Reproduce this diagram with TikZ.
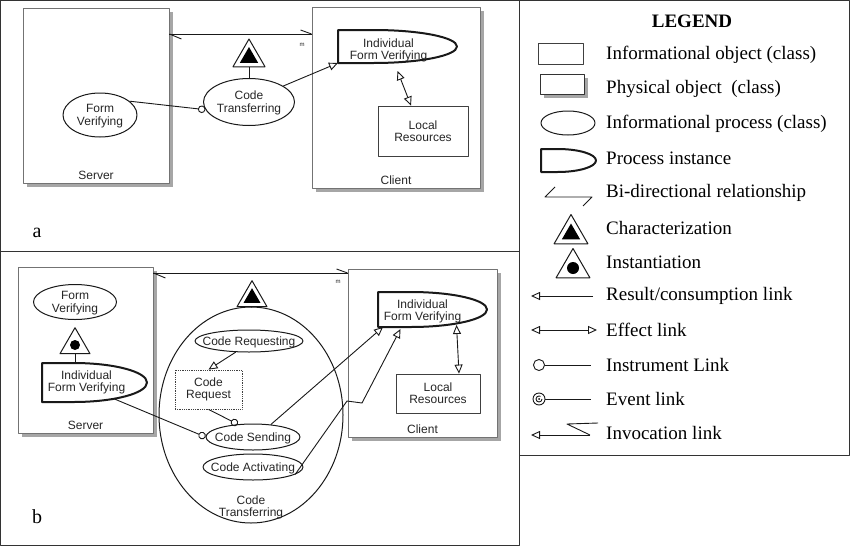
\documentclass[tikz,border=0pt]{standalone}
\usepackage{fontspec}
\setmainfont{Liberation Serif}
\setsansfont{Liberation Sans}
\usetikzlibrary{arrows.meta,shapes.geometric,shadows}

\newcommand{\ztext}[1]{\makebox[0pt]{\raisebox{-4.5pt}[0pt][0pt]{\begin{tabular}{@{}c@{}}#1\end{tabular}}}}
\newcommand{\procshape}[3]{\draw[proc line] (#1.north west) -- ++(0.3*#2,0)
    arc[start angle=-90,end angle=90,x radius=0.7*#2,y radius=0.5*#3] -- (#1.south west) -- cycle;}

\begin{document}
\begin{tikzpicture}[x=1pt,y=-1pt,line join=round]
    \tikzstyle{every node}=[font=\sffamily\fontsize{12}{12}\selectfont, text=black!85, inner sep=0pt]
    \tikzstyle{frame}=[line width=1pt, draw=black!80]
    \tikzstyle{physobj}=[rectangle, draw=black!55, line width=0.9pt, fill=white, drop shadow={shadow xshift=4pt, shadow yshift=-4pt, fill=black!35, opacity=1}]
    \tikzstyle{infobj}=[rectangle, draw=black!75, line width=0.8pt, align=center]
    \tikzstyle{proc}=[ellipse, draw=black!90, line width=1pt]
    \tikzstyle{procinst}=[rectangle, outer sep=0pt]
    \tikzstyle{proc line}=[line width=2pt, draw=black!90]
    \tikzstyle{tri}=[regular polygon, regular polygon sides=3, draw=black!90, line width=1pt, fill=white]
    \tikzstyle{tri fill}=[regular polygon, regular polygon sides=3, fill=black]
    \tikzstyle{link}=[line width=0.9pt, draw=black!90]
    \tikzstyle{result}=[link, -{Triangle[open,length=9pt,width=8pt]}]
    \tikzstyle{effect}=[link, {Triangle[open,length=9pt,width=8pt]}-{Triangle[open,length=9pt,width=8pt]}]
    \tikzstyle{instrument}=[link, -{Circle[open,length=7.5pt]}]
    \tikzstyle{small}=[font=\sffamily\fontsize{6}{6}\selectfont]
    \tikzstyle{panel}=[font=\rmfamily\fontsize{20}{20}\selectfont, text=black]
    \tikzstyle{legtext}=[font=\rmfamily\fontsize{19}{19}\selectfont, text=black, anchor=west]

    \useasboundingbox (0,0) rectangle (850,546);
    \draw[frame] (0.5,0.5) rectangle (519,251);
    \draw[frame] (0.5,251) rectangle (519,545.5);
    \draw[frame] (519,0.5) rectangle (849.5,455);

    % panel a
    \node[physobj, minimum width=146pt, minimum height=175pt, label={[above, inner sep=4pt]south:Server}] (serverA) at (96,95.5) {};
    \node[physobj, minimum width=168pt, minimum height=181pt, label={[above, inner sep=4pt]south:Client}] (clientA) at (396,97.5) {};
    \coordinate (bdA) at (0,34);
    \draw[link] (serverA.east |- bdA) -- (clientA.west |- bdA);
    \draw[link] (serverA.east |- bdA) -- ++(12,5);
    \draw[link] (clientA.west |- bdA) -- ++(-11,-4);
    \node[small] (mA) at (302,45) {m};
    \node[tri, minimum size=37pt] (charA) at (249,57.5) {};
    \node[tri fill, minimum size=21pt] (charAin) at (charA) {};
    \node[proc, minimum width=91pt, minimum height=47pt] (ctA) at (249,102) {\ztext{Code\\Transferring}};
    \node[proc, minimum width=74pt, minimum height=44pt] (fvA) at (100,115) {\ztext{Form\\Verifying}};
    \node[procinst, minimum width=119pt, minimum height=33pt, label={[align=center, xshift=-9pt, yshift=-4pt]center:Individual\\Form Verifying}] (ifvA) at (397.5,46.5) {};
    \procshape{ifvA}{119}{33}
    \node[infobj, minimum width=90pt, minimum height=50pt] (lrA) at (423,131) {Local\\Resources};
    \draw[link] (charA.south) -- (ctA.north);
    \draw[instrument] (fvA.25) -- (ctA.190);
    \draw[result] (ctA.25) -- (ifvA.south west);
    \draw[effect] ([yshift=-8pt]ifvA.south) -- ([xshift=-12pt]lrA.north);
    \node[panel] (labA) at (37,233) {a};

    % panel b
    \node[physobj, minimum width=135pt, minimum height=166pt, label={[above, inner sep=4pt]south:Server}] (serverB) at (85.5,350) {};
    \node[physobj, minimum width=149pt, minimum height=168pt, label={[above, inner sep=4pt]south:Client}] (clientB) at (422.5,353) {};
    \coordinate (bdB) at (0,273);
    \draw[link] (serverB.east |- bdB) -- (clientB.west |- bdB);
    \draw[link] (serverB.east |- bdB) -- ++(12,5);
    \draw[link] (clientB.west |- bdB) -- ++(-11,-4);
    \node[small] (mB) at (338,282) {m};
    \node[proc, minimum width=184pt, minimum height=216pt, label={[above=4pt, align=center]south:Code\\Transferring}] (ctB) at (251,415) {};
    \node[tri, minimum size=34.6pt] (charB) at (252,298) {};
    \node[tri fill, minimum size=19.6pt] (charBin) at (charB) {};
    \node[proc, minimum width=108pt, minimum height=22pt] (crqB) at (249,341) {\ztext{Code Requesting}};
    \node[infobj, densely dotted, minimum width=67pt, minimum height=39pt] (creqB) at (208.5,389.5) {Code\\Request};
    \node[proc, minimum width=94pt, minimum height=26pt] (csB) at (253,437) {\ztext{Code Sending}};
    \node[proc, minimum width=100pt, minimum height=26pt] (caB) at (253,467) {\ztext{Code Activating}};
    \node[proc, minimum width=83pt, minimum height=35pt] (fvB) at (75,302) {\ztext{Form\\Verifying}};
    \node[tri, minimum size=34.6pt] (instB) at (75,345) {};
    \node[circle, fill=black, minimum size=10pt] (instBin) at (instB) {};
    \node[procinst, minimum width=105pt, minimum height=39pt, label={[align=center, xshift=-8pt]center:Individual\\Form Verifying}] (ifvS) at (94.5,382.5) {};
    \procshape{ifvS}{105}{39}
    \node[procinst, minimum width=109pt, minimum height=35pt, label={[align=center, xshift=-10pt, yshift=-1.5pt]center:Individual\\Form Verifying}] (ifvC) at (432.5,309.5) {};
    \procshape{ifvC}{109}{35}
    \node[infobj, minimum width=84pt, minimum height=39pt] (lrB) at (438,393.5) {Local\\Resources};
    \coordinate (zz1) at (347,401);
    \coordinate (zz2) at (362,403);
    \draw[link] (charB.south) -- (ctB.north);
    \draw[link] (instB.south) -- (instB.south |- ifvS.north);
    \draw[result] (crqB.220) -- (creqB.north);
    \draw[instrument] (creqB.south) -- (csB.140);
    \draw[instrument] ([xshift=20pt,yshift=3pt]ifvS.south) -- (csB.west);
    \draw[result] (csB.35) -- ([xshift=5pt]ifvC.south west);
    \draw[result] (caB.-10) -- (zz1) -- (zz2) -- ([xshift=-32pt,yshift=-2pt]ifvC.south);
    \draw[effect] ([xshift=24pt,yshift=2pt]ifvC.south) -- ([xshift=21pt]lrB.north);
    \node[panel] (labB) at (37,517) {b};

    % legend
    \node[font=\rmfamily\bfseries\fontsize{19}{19}\selectfont, text=black] (legend) at (692,21) {LEGEND};
    \node[infobj, minimum width=45pt, minimum height=21pt] (icInfo) at (560.5,53.5) {};
    \node[physobj, draw=black!80, minimum width=44pt, minimum height=20pt] (icPhys) at (562,84) {};
    \node[proc, minimum width=54pt, minimum height=24pt] (icProc) at (568,123) {};
    \node[procinst, minimum width=55pt, minimum height=23pt] (icInst) at (568.5,160.5) {};
    \procshape{icInst}{55}{23}
    \draw[link] (555,187) -- (545,197) -- (592,197) -- (583,206);
    \node[tri, minimum size=39pt] (icChar) at (571,234) {};
    \node[tri fill, minimum size=21pt] (icCharIn) at (icChar) {};
    \node[tri, minimum size=39pt] (icInstan) at (573,268) {};
    \node[circle, fill=black, minimum size=12pt] (icInstanIn) at (icInstan) {};
    \draw[result] (593,296) -- (531,296);
    \draw[effect] (531,330) -- (597,330);
    \draw[link, {Circle[open,length=12pt]}-] (533,365) -- (591,365);
    \draw[link] (545,399) -- (591,399);
    \draw[link] (539,399) circle[radius=6];
    \draw[link] (539,399) ++(3,0) arc[start angle=0, end angle=300, radius=3];
    \fill (539,399) circle[radius=1];
    \draw[result] (590,435) -- (531,435);
    \draw[link] (590,435) -- (567,424) -- (598,423);
    \foreach \y/\txt [count=\i] in {55/Informational object (class), 89/Physical object\ \ (class),
        124/Informational process (class), 158/Process instance, 193/Bi-directional relationship,
        228/Characterization, 262/Instantiation, 296/{Result/consumption link}, 330/Effect link,
        365/Instrument Link, 399/Event link, 433/Invocation link}
        \node[legtext] (leg\i) at (606,\y) {\txt};
\end{tikzpicture}
\end{document}
